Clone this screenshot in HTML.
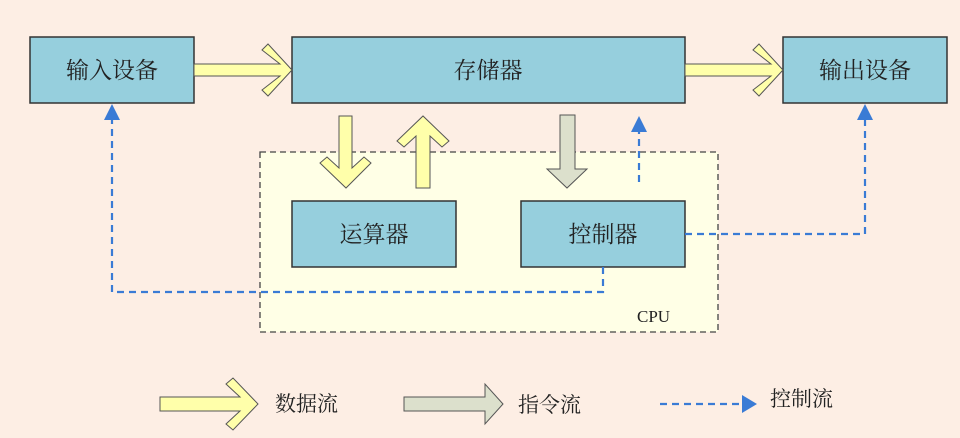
<!DOCTYPE html>
<html><head><meta charset="utf-8"><style>
html,body{margin:0;padding:0;background:#fdeee4;}
svg{display:block;}
text{font-family:"Liberation Serif","Noto Serif CJK SC","Noto Sans CJK SC",serif;fill:#222;}
</style></head><body>
<svg width="960" height="438" viewBox="0 0 960 438" xmlns="http://www.w3.org/2000/svg">
<rect width="960" height="438" fill="#fdeee4"/>
<rect x="260" y="152" width="458" height="180" fill="#ffffe6" stroke="#444" stroke-width="1.3" stroke-dasharray="6,4"/>
<text x="637" y="322" font-size="17">CPU</text>
<g fill="#96cfdd" stroke="#333" stroke-width="1.5">
<rect x="30" y="37" width="164" height="66"/>
<rect x="292" y="37" width="393" height="66"/>
<rect x="783" y="37" width="164" height="66"/>
<rect x="292" y="201" width="164" height="66"/>
<rect x="521" y="201" width="164" height="66"/>
</g>
<g font-size="23" text-anchor="middle">
<text x="112" y="78">输入设备</text>
<text x="488" y="78">存储器</text>
<text x="865" y="78">输出设备</text>
<text x="374" y="242">运算器</text>
<text x="603" y="242">控制器</text>
</g>
<g fill="#ffffaa" stroke="#555" stroke-width="1">
<polygon points="194,64 280,64 262,50 268,44 292,70 268,96 262,90 280,76 194,76"/>
<polygon points="685,64 771,64 753,50 759,44 783,70 759,96 753,90 771,76 685,76"/>
<polygon points="339,116 352,116 352,168 364,157 371,163 346,188 320,163 327,157 339,168"/>
<polygon points="416,188 430,188 430,136 442,147 449,141 423,116 397,141 404,147 416,136"/>
<polygon points="160,397 240,397 226,384 233,378 258,404 233,430 226,424 240,411 160,411"/>
</g>
<g fill="#dce0cc" stroke="#555" stroke-width="1">
<polygon points="560,115 575,115 575,169 587,169 567,188 547,169 560,169"/>
<polygon points="404,397 485,397 485,384 503,404 485,424 485,411 404,411"/>
</g>
<g fill="none" stroke="#3a7bd5" stroke-width="2.2" stroke-dasharray="7,5">
<polyline points="603,267 603,292 112,292 112,118"/>
<polyline points="685,234 865,234 865,118"/>
<polyline points="639,182 639,130"/>
<line x1="660" y1="404" x2="742" y2="404"/>
</g>
<g fill="#3a7bd5">
<polygon points="104,120 120,120 112,104"/>
<polygon points="857,120 873,120 865,104"/>
<polygon points="631,132 647,132 639,116"/>
<polygon points="742,395 742,413 757,404"/>
</g>
<g font-size="21">
<text x="275" y="411">数据流</text>
<text x="518" y="412">指令流</text>
<text x="770" y="406">控制流</text>
</g>
</svg>
</body></html>
